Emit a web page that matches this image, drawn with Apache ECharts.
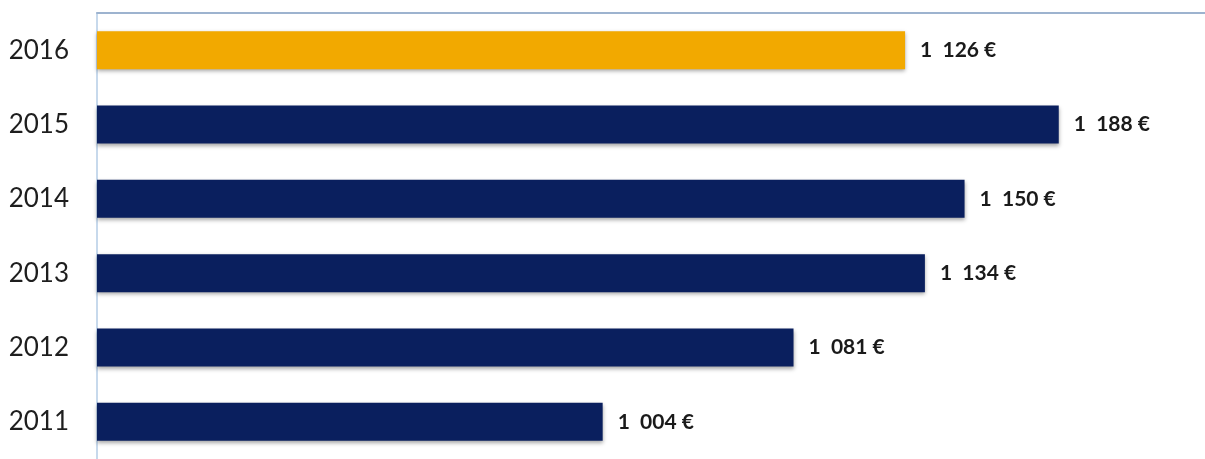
<!DOCTYPE html>
<html>
<head>
<meta charset="utf-8">
<script src="https://cdn.jsdelivr.net/npm/echarts@6/dist/echarts.min.js"></script>
<style>
html,body{margin:0;padding:0;background:#fff;}
#chart{width:1205px;height:459px;}
</style>
</head>
<body>
<div id="chart"></div>
<script>
const years = ['2011', '2012', '2013', '2014', '2015', '2016'];
const values = [1004, 1081, 1134, 1150, 1188, 1126];
const highlightYear = '2016';

function fmt(v) {
  const s = String(v);
  const th = s.slice(0, s.length - 3);
  const rest = s.slice(s.length - 3);
  return (th ? th + '  ' : '') + rest + ' €';
}

const chart = echarts.init(document.getElementById('chart'), null, {renderer: 'canvas'});
chart.setOption({
  animation: false,
  backgroundColor: '#ffffff',
  grid: {left: 97, right: 0, top: 13, bottom: -2, containLabel: false},
  xAxis: {
    type: 'value', position: 'top', min: 800, max: 1247,
    axisLine: {show: true, lineStyle: {color: '#9db3cf', width: 2}},
    axisTick: {show: false}, axisLabel: {show: false}, splitLine: {show: false}
  },
  yAxis: {
    type: 'category', data: years,
    axisLine: {show: true, lineStyle: {color: '#b5cde6', width: 1.5}},
    axisTick: {show: false},
    axisLabel: {margin: 28, fontFamily: 'Lato, "Open Sans", sans-serif', fontSize: 26, color: '#1e1e1e'}
  },
  series: [{
    type: 'bar',
    data: values,
    barWidth: 38,
    itemStyle: {
      color: function (p) { return years[p.dataIndex] === highlightYear ? '#f2a900' : '#0a1f5e'; },
      shadowColor: 'rgba(0,0,0,0.35)', shadowBlur: 4, shadowOffsetY: 2
    },
    label: {
      show: true, position: 'right', distance: 15,
      fontFamily: 'Lato, "Open Sans", sans-serif', fontWeight: 'bold', fontSize: 21, color: '#1a1a1a',
      formatter: function (p) { return fmt(p.value); }
    }
  }]
});
</script>
</body>
</html>
